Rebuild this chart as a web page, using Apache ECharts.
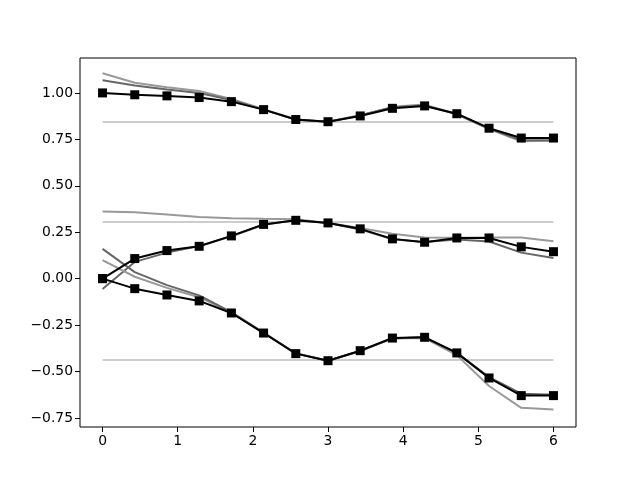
<!DOCTYPE html>
<html lang="en">
<head>
    <meta charset="UTF-8">
    <title>Chart</title>
    <script src="https://cdn.jsdelivr.net/npm/echarts@6/dist/echarts.min.js"></script>
    <style>
        body { margin: 0; background: #fff; }
        #chart { width: 640px; height: 480px; }
    </style>
</head>
<body>
    <div id="chart"></div>
    <script>
        // sample positions along x
        var xs = [0, 0.4286, 0.8571, 1.2857, 1.7143, 2.1429, 2.5714, 3, 3.4286, 3.8571, 4.2857, 4.7143, 5.1429, 5.5714, 6];

        // top group
        var topMain  = [1.00, 0.990, 0.984, 0.975, 0.953, 0.910, 0.857, 0.845, 0.876, 0.917, 0.930, 0.888, 0.810, 0.757, 0.757];
        var topDark  = [1.068, 1.040, 1.018, 1.000, 0.962, 0.910, 0.855, 0.845, 0.880, 0.922, 0.933, 0.885, 0.808, 0.745, 0.745];
        var topLight = [1.106, 1.055, 1.030, 1.010, 0.968, 0.912, 0.857, 0.845, 0.878, 0.925, 0.937, 0.886, 0.805, 0.740, 0.742];
        var topLevel = 0.843;

        // middle group
        var midMain  = [0.0, 0.108, 0.151, 0.174, 0.230, 0.292, 0.314, 0.300, 0.268, 0.214, 0.196, 0.219, 0.219, 0.171, 0.145];
        var midDark  = [-0.056, 0.090, 0.140, 0.175, 0.228, 0.290, 0.315, 0.300, 0.265, 0.212, 0.197, 0.210, 0.200, 0.140, 0.111];
        var midLight = [0.362, 0.358, 0.345, 0.332, 0.325, 0.322, 0.320, 0.300, 0.272, 0.242, 0.222, 0.220, 0.222, 0.222, 0.201];
        var midLevel = 0.305;

        // bottom group
        var botMain  = [0.0, -0.054, -0.088, -0.120, -0.185, -0.293, -0.404, -0.442, -0.388, -0.320, -0.316, -0.400, -0.535, -0.630, -0.630];
        var botDark  = [0.160, 0.035, -0.035, -0.090, -0.180, -0.290, -0.402, -0.442, -0.390, -0.322, -0.315, -0.400, -0.530, -0.620, -0.625];
        var botLight = [0.099, 0.010, -0.050, -0.100, -0.182, -0.292, -0.404, -0.442, -0.390, -0.322, -0.320, -0.412, -0.578, -0.696, -0.705];
        var botLevel = -0.438;

        var xTicks = [0, 1, 2, 3, 4, 5, 6];
        var yTicks = [-0.75, -0.5, -0.25, 0, 0.25, 0.5, 0.75, 1.0];

        function pairs(vals) {
            return xs.map(function (x, i) { return [x, vals[i]]; });
        }

        function level(y) {
            return {
                type: 'line', data: [[xs[0], y], [xs[xs.length - 1], y]],
                symbol: 'none', silent: true,
                lineStyle: { color: '#cccccc', width: 2 }
            };
        }

        function grey(vals, color) {
            return {
                type: 'line', data: pairs(vals), symbol: 'none', silent: true,
                lineStyle: { color: color, width: 2 }
            };
        }

        function main(vals) {
            return {
                type: 'line', data: pairs(vals), symbol: 'rect', symbolSize: 9,
                itemStyle: { color: '#000' },
                lineStyle: { color: '#000', width: 2 }
            };
        }

        var chart = echarts.init(document.getElementById('chart'));

        var axisFont = { color: '#000', fontSize: 13.9, fontFamily: 'DejaVu Sans' };

        var option = {
            animation: false,
            grid: {
                left: 80, right: 64, top: 58, bottom: 53,
                show: true, borderColor: '#000', borderWidth: 1,
                outerBoundsMode: 'none'
            },
            xAxis: {
                type: 'value', min: -0.3, max: 6.3,
                axisLine: { show: false, onZero: false },
                splitLine: { show: false },
                axisTick: { show: true, length: 5, lineStyle: { color: '#000' }, customValues: xTicks },
                axisLabel: Object.assign({ margin: 7, customValues: xTicks }, axisFont)
            },
            yAxis: {
                type: 'value', min: -0.799, max: 1.188,
                axisLine: { show: false, onZero: false },
                splitLine: { show: false },
                axisTick: { show: true, length: 5, lineStyle: { color: '#000' }, customValues: yTicks },
                axisLabel: Object.assign({
                    margin: 7, customValues: yTicks,
                    formatter: function (v) { return v.toFixed(2).replace('-', '\u2212'); }
                }, axisFont)
            },
            series: [
                level(topLevel), level(midLevel), level(botLevel),
                grey(topLight, '#999999'), grey(topDark, '#666666'),
                grey(midLight, '#999999'), grey(midDark, '#666666'),
                grey(botLight, '#999999'), grey(botDark, '#666666'),
                main(topMain), main(midMain), main(botMain)
            ]
        };

        chart.setOption(option);
    </script>
</body>
</html>
